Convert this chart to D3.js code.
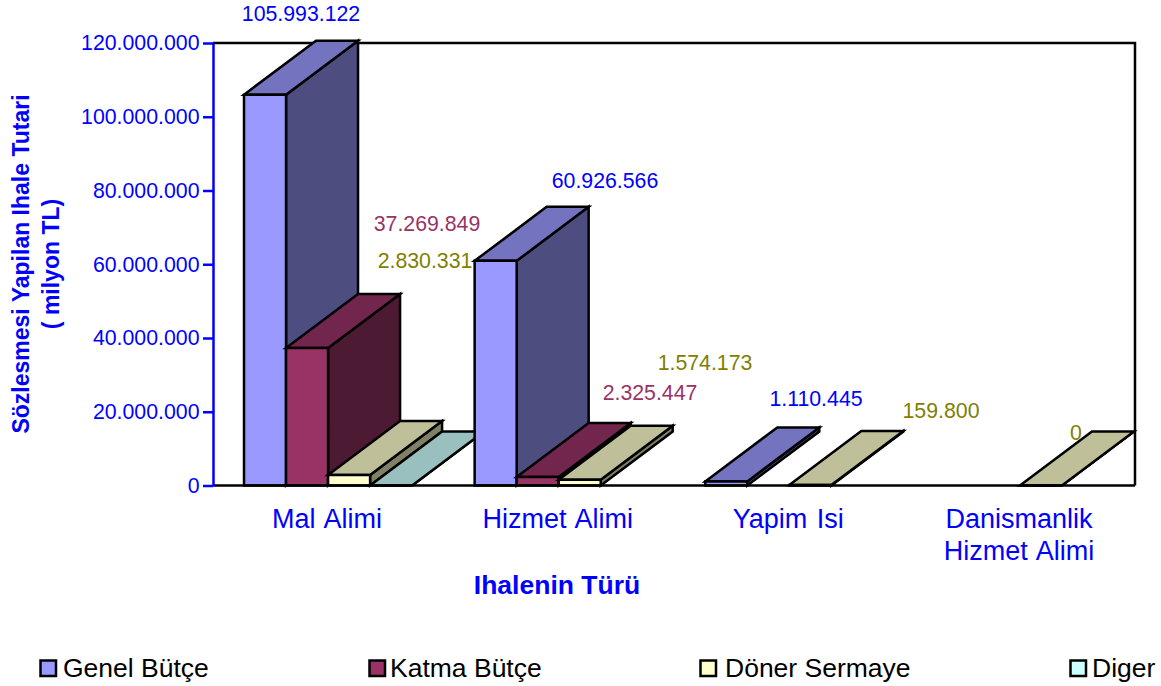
<!DOCTYPE html>
<html><head><meta charset="utf-8">
<script src="https://cdn.jsdelivr.net/npm/d3@7"></script>
<style>html,body{margin:0;padding:0;background:#fff}svg{display:block}text{font-family:"Liberation Sans",Arial,sans-serif}</style>
</head><body><div id="c"></div>
<script>
const categories = ["Mal Alimi","Hizmet Alimi","Yapim Isi","Danismanlik\nHizmet Alimi"];
const seriesNames = ["Genel Bütçe","Katma Bütçe","Döner Sermaye","Diger"];
const genelButce  = [105993122, 60926566, 1110445, null];
const katmaButce  = [37269849, 2325447, null, null];
const donerSermaye= [2830331, 1574173, 159800, 0];
const diger       = [0, null, null, null];
const yTicks = [0,20000000,40000000,60000000,80000000,100000000,120000000];
const frontColors = ["#9999ff","#993366","#ffffcc","#ccffff"];
const labelColors = ["#0000ff","#993366","#808000","#0000ff"];
// hand-placed value labels in the original: [value series, category, centre x, centre y]
const labelPlacement = [
 [0,0,301,14],[1,0,427,224],[2,0,425,261],
 [0,1,605,181],[1,1,650,393],[2,1,705,363],
 [0,2,816,399],[2,2,941,411],[2,3,1076,433]];
const W=1161,H=686, L=213,R=1135,T=43,B=485.5, DX=72,DY=54;
const seriesValues=[genelButce,katmaButce,donerSermaye,diger];
const fmt=v=>d3.format(",")(v).replace(/,/g,".");
const svg=d3.select("#c").append("svg").attr("width",W).attr("height",H);
const x=d3.scaleBand().domain(d3.range(categories.length)).range([L,R]).paddingInner(62.5/230.5).paddingOuter(31/230.5);
const xs=d3.scaleBand().domain(d3.range(seriesNames.length)).range([0,x.bandwidth()]);
const y=d3.scaleLinear().domain([0,120000000]).range([B,T]);
// frame
svg.append("path").attr("d",`M${L},${T}H${R}V${B}`).attr("fill","none").attr("stroke","#000").attr("stroke-width",2.5);
// bars
const col=(c,k)=>{const o=d3.rgb(c);return d3.rgb(o.r*k,o.g*k,o.b*k).formatHex()};
const g=svg.append("g").attr("stroke","#000").attr("stroke-width",2.5).attr("stroke-linejoin","miter");
categories.forEach((_,ci)=>{
  seriesValues.forEach((vals,si)=>{
    const v=vals[ci]; if(v===null) return;
    const x0=x(ci)+xs(si), x1=x0+xs.bandwidth(), y0=y(v), b=y(0);
    g.append("path").attr("fill",col(frontColors[si],0.5)).attr("d",`M${x1},${b}L${x1+DX},${b-DY}V${y0-DY}L${x1},${y0}Z`);
    g.append("path").attr("fill",col(frontColors[si],0.75)).attr("d",`M${x0},${y0}L${x0+DX},${y0-DY}H${x1+DX}L${x1},${y0}Z`);
    g.append("path").attr("fill",frontColors[si]).attr("d",`M${x0},${b}V${y0}H${x1}V${b}Z`);
  });
});
// baseline
svg.append("line").attr("x1",L).attr("x2",R).attr("y1",B).attr("y2",B).attr("stroke","#000").attr("stroke-width",2.5);
// y axis
const ax=svg.append("g").attr("transform",`translate(${L},0)`).call(d3.axisLeft(y).tickValues(yTicks).tickFormat(fmt).tickSize(10).tickPadding(3.5).tickSizeOuter(0));
ax.selectAll("path,line").attr("stroke","#0000ff").attr("stroke-width",2.5);
ax.selectAll("text").attr("fill","#0000ff").attr("font-size",21.3).attr("font-family",'"Liberation Sans",Arial,sans-serif');
// value labels
labelPlacement.forEach(([si,ci,px,py])=>{
  svg.append("text").attr("x",px).attr("y",py).attr("dy","0.35em").attr("text-anchor","middle")
    .attr("font-size",21.3).attr("fill",labelColors[si]).text(fmt(seriesValues[si][ci]));
});
// category labels
categories.forEach((c,i)=>{
  const cx=x(i)+x.bandwidth()/2-1;
  c.split("\n").forEach((ln,j)=>{
    svg.append("text").attr("x",cx).attr("y",528+j*32).attr("text-anchor","middle")
      .attr("font-size",27).attr("word-spacing",2).attr("fill","#0000ff").text(ln);
  });
});
svg.append("text").attr("x",557).attr("y",594).attr("text-anchor","middle")
  .attr("font-size",26.5).attr("font-weight","bold").attr("fill","#0000ff").text("Ihalenin Türü");
const yt=svg.append("text").attr("transform","translate(0,264) rotate(-90)").attr("text-anchor","middle")
  .attr("font-size",23).attr("font-weight","bold").attr("fill","#0000ff");
yt.append("tspan").attr("x",0).attr("y",28.5).text("Sözlesmesi Yapilan Ihale Tutari");
yt.append("tspan").attr("x",0).attr("y",58.5).text("( milyon TL)");
// legend
const legendX=[40.5,369.5,700.5,1070.5];
const legendTextX=[63,390,725,1092];
seriesNames.forEach((n,i)=>{
  svg.append("rect").attr("x",legendX[i]).attr("y",660.5).attr("width",15.5).attr("height",15.5)
    .attr("fill",frontColors[i]).attr("stroke","#000").attr("stroke-width",2.5);
  svg.append("text").attr("x",legendTextX[i]).attr("y",677).attr("font-size",26.5).attr("fill","#000").text(n);
});
</script></body></html>
